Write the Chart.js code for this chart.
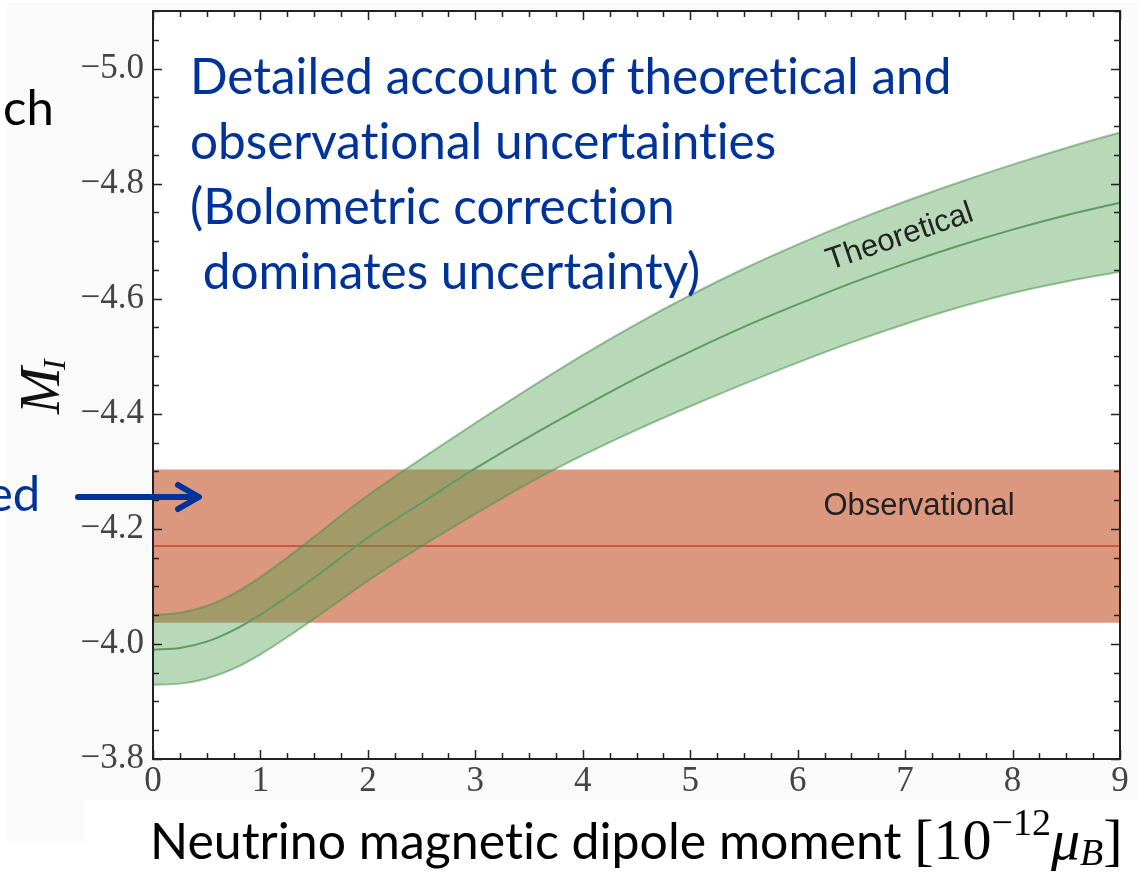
<!DOCTYPE html>
<html>
<head>
<meta charset="utf-8">
<script src="https://cdn.jsdelivr.net/npm/chart.js@4.4.1/dist/chart.umd.min.js"></script>
<style>
  body { margin: 0; background: #fff; }
  #wrap { position: relative; width: 1145px; height: 872px; overflow: hidden; }
  #panel { position: absolute; left: 7px; top: 3px; width: 1131px; height: 797px; background: #fafafa; }
  #panel2 { position: absolute; left: 7px; top: 800px; width: 78px; height: 43px; background: #fafafa; }
  canvas { position: absolute; left: 0; top: 0; }
  .slide { position: absolute; font-family: Lato, "Open Sans", sans-serif; white-space: pre; font-variant-ligatures: none; }
  #note { left: 190px; top: 43px; font-size: 49.5px; line-height: 65px; color: #003399; }
  #ch { left: 3px; top: 77px; font-size: 49px; color: #000; }
  #ed { left: -13px; top: 463px; font-size: 49px; color: #003399; }
  #xtitle { left: 150px; top: 815px; font-size: 50px; line-height: 50px; color: #000; }
  #xtitle .m { font-family: "Liberation Serif", serif; font-size: 58px; }
  #xtitle sup { font-size: 38px; vertical-align: 24px; line-height: 0; }
  #xtitle sub { font-size: 38px; font-style: italic; vertical-align: -6px; line-height: 0; }
  #xtitle i { font-style: italic; }
</style>
</head>
<body>
<div id="wrap">
  <div id="panel"></div>
  <div id="panel2"></div>
  <canvas id="c" width="1145" height="872"></canvas>
  <div class="slide" id="ch">ch</div>
  <div class="slide" id="ed">ed</div>
  <svg style="position:absolute;left:0;top:0" width="260" height="560">
    <line x1="78" y1="497" x2="198" y2="497" stroke="#003399" stroke-width="6" stroke-linecap="round"/>
    <polyline points="178,485 199,497 178,509" fill="none" stroke="#003399" stroke-width="6" stroke-linecap="round" stroke-linejoin="round"/>
  </svg>
  <div class="slide" id="note">Detailed account of theoretical and
observational uncertainties
(Bolometric correction
 dominates uncertainty)</div>
  <div class="slide" id="xtitle">Neutrino magnetic dipole moment <span class="m">[10<sup>−12</sup><i>μ</i><sub>B</sub>]</span></div>
</div>

<script>
// neutrino magnetic moment (units of 1e-12 mu_B)
const mu = [0, 0.25, 0.5, 0.75, 1, 1.25, 1.5, 1.75, 2, 2.5, 3, 3.5, 4, 4.5, 5, 5.5, 6, 6.5, 7, 7.5, 8, 8.5, 9];

// theoretical TRGB magnitude M_I : central curve and band edges
const theoMid  = [-3.990, -3.993, -4.004, -4.024, -4.051, -4.082, -4.115, -4.150, -4.185, -4.245, -4.305,
                  -4.360, -4.412, -4.462, -4.508, -4.551, -4.590, -4.627, -4.661, -4.692, -4.720, -4.745, -4.767];
const theoHigh = [-4.050, -4.054, -4.066, -4.087, -4.116, -4.150, -4.186, -4.223, -4.258, -4.322, -4.384,
                  -4.444, -4.502, -4.556, -4.606, -4.652, -4.694, -4.733, -4.769, -4.802, -4.833, -4.862, -4.889];
const theoLow  = [-3.929, -3.931, -3.940, -3.957, -3.982, -4.012, -4.044, -4.077, -4.110, -4.170, -4.226,
                  -4.280, -4.328, -4.372, -4.413, -4.452, -4.489, -4.524, -4.556, -4.585, -4.610, -4.630, -4.647];

// observational value and its band
const obsMu   = [0, 9];
const obsMid  = [-4.17, -4.17];
const obsHigh = [-4.303, -4.303];
const obsLow  = [-4.037, -4.037];

const xTicks = [0, 1, 2, 3, 4, 5, 6, 7, 8, 9];
const yTicks = [-5.0, -4.8, -4.6, -4.4, -4.2, -4.0, -3.8];

function pts(xs, ys) {
  return xs.map((x, i) => ({ x: x, y: ys[i] }));
}

const greenFill = 'rgba(76,160,76,0.4)';
const greenEdge = 'rgba(80,140,80,0.55)';

const plotBg = {
  id: 'plotBg',
  beforeDraw(chart) {
    const a = chart.chartArea, c = chart.ctx;
    c.save();
    c.fillStyle = '#fff';
    c.fillRect(a.left, a.top, a.right - a.left, a.bottom - a.top);
    c.restore();
  }
};

// band labels and the y title
const labels = {
  id: 'labels',
  afterDatasetsDraw(chart) {
    const c = chart.ctx, sx = chart.scales.x, sy = chart.scales.y;
    c.save();
    c.fillStyle = '#222';
    c.font = '31px "Liberation Sans", Arial, sans-serif';
    c.textAlign = 'center';
    c.textBaseline = 'middle';
    c.fillText('Observational', sx.getPixelForValue(7.13), sy.getPixelForValue(-4.239));
    c.translate(sx.getPixelForValue(6.95), sy.getPixelForValue(-4.707));
    c.rotate(-0.33);
    c.fillText('Theoretical', 0, 0);
    c.restore();

    c.save();
    c.translate(59, 414);
    c.rotate(-Math.PI / 2);
    c.fillStyle = '#111';
    c.textBaseline = 'alphabetic';
    c.font = 'italic 56px "Liberation Serif", serif';
    c.fillText('M', 0, 0);
    c.font = 'italic 32px "Liberation Serif", serif';
    c.fillText('I', 44, 6);
    c.restore();
  }
};

// matplotlib style frame with inward ticks on all four sides
const frame = {
  id: 'frame',
  afterDraw(chart) {
    const a = chart.chartArea, c = chart.ctx, sx = chart.scales.x, sy = chart.scales.y;
    c.save();
    c.strokeStyle = '#222';
    c.lineWidth = 1.5;
    for (let v = 0; v <= 9.001; v += 0.25) {
      const px = Math.round(sx.getPixelForValue(v)) + 0.5;
      const len = Math.abs(v - Math.round(v)) < 1e-6 ? 9 : 6;
      c.beginPath();
      c.moveTo(px, a.bottom); c.lineTo(px, a.bottom - len);
      c.moveTo(px, a.top); c.lineTo(px, a.top + len);
      c.stroke();
    }
    for (let k = 0; k <= 26; k++) {
      const v = -3.8 - k * 0.05;
      const py = Math.round(sy.getPixelForValue(v)) + 0.5;
      const len = k % 4 === 0 ? 9 : 6;
      c.beginPath();
      c.moveTo(a.left, py); c.lineTo(a.left + len, py);
      c.moveTo(a.right, py); c.lineTo(a.right - len, py);
      c.stroke();
    }
    c.lineWidth = 2;
    c.strokeRect(a.left, a.top, a.right - a.left, a.bottom - a.top);
    c.restore();
  }
};

new Chart(document.getElementById('c'), {
  type: 'line',
  data: {
    datasets: [
      { data: pts(mu, theoMid), borderColor: '#5f9a62', borderWidth: 2, order: 1 },
      { data: pts(mu, theoHigh), borderColor: greenEdge, borderWidth: 2, backgroundColor: greenFill, fill: '+1', order: 2 },
      { data: pts(mu, theoLow), borderColor: greenEdge, borderWidth: 2, fill: false, order: 2 },
      { data: pts(obsMu, obsMid), borderColor: '#d4553b', borderWidth: 2, order: 4, tension: 0 },
      { data: pts(obsMu, obsHigh), borderWidth: 0, backgroundColor: '#dc987e', fill: '+1', order: 5, tension: 0 },
      { data: pts(obsMu, obsLow), borderWidth: 0, fill: false, order: 5, tension: 0 }
    ]
  },
  options: {
    responsive: false,
    animation: false,
    layout: { padding: { top: 11, right: 25, left: 0, bottom: 0 } },
    elements: {
      point: { radius: 0 },
      line: { cubicInterpolationMode: 'monotone' }
    },
    plugins: { legend: { display: false }, tooltip: { enabled: false } },
    scales: {
      x: {
        type: 'linear', min: 0, max: 9,
        grid: { display: false, drawTicks: false },
        border: { display: false },
        afterBuildTicks: s => { s.ticks = xTicks.map(v => ({ value: v })); },
        afterFit: s => { s.height = 113; s.paddingLeft = 0; s.paddingRight = 0; },
        ticks: {
          padding: 2, color: '#444',
          font: { family: '"Liberation Serif", serif', size: 35 },
          callback: v => String(v)
        }
      },
      y: {
        type: 'linear', min: -5.1, max: -3.8, reverse: true,
        grid: { display: false, drawTicks: false },
        border: { display: false },
        afterBuildTicks: s => { s.ticks = yTicks.map(v => ({ value: v })); },
        afterFit: s => { s.width = 153; s.paddingTop = 0; s.paddingBottom = 0; },
        ticks: {
          padding: 9, color: '#444',
          font: { family: '"Liberation Serif", serif', size: 35 },
          callback: v => v.toFixed(1).replace('-', '\u2212')
        }
      }
    }
  },
  plugins: [plotBg, labels, frame]
});
</script>
</body>
</html>
